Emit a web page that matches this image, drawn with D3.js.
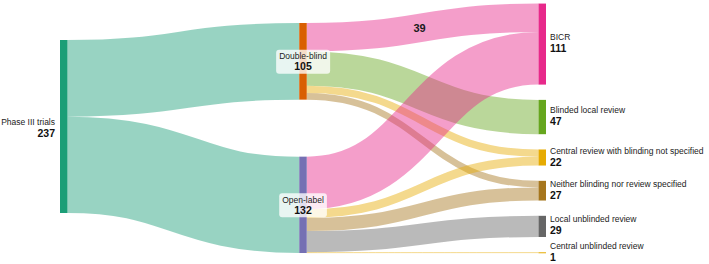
<!DOCTYPE html>
<html>
<head>
<meta charset="utf-8">
<script src="https://cdn.jsdelivr.net/npm/d3@7"></script>
<style>
  body { margin: 0; background: #fff; }
  svg { display: block; font-family: "Liberation Sans", Arial, sans-serif; }
</style>
</head>
<body>
<div id="chart"></div>
<script>
// nodes
const nodeNames = [
  "Phase III trials", "Double-blind", "Open-label", "BICR",
  "Blinded local review", "Central review with blinding not specified",
  "Neither blinding nor review specified", "Local unblinded review",
  "Central unblinded review"
];
const nodeColors = ["#1b9e77", "#d95f02", "#7570b3", "#e7298a", "#66a61e",
  "#e6ab02", "#a6761d", "#666666", "#e6ab02"];

// links
const linkSources = [0, 0, 1, 1, 1, 1, 2, 2, 2, 2, 2];
const linkTargets = [1, 2, 3, 4, 5, 6, 3, 5, 6, 7, 8];
const linkValues = [105, 132, 39, 47, 10, 9, 72, 12, 18, 29, 1];
const labelledLinks = [2];

const width = 709;
const height = 264;

// small sankey layout (d3-sankey is not part of the d3 bundle)
function sankeyLayout(nodes, links, opt) {
  const { x0, x1, y0, y1, nodeWidth, py, pyScale } = opt;

  nodes.forEach((n, i) => { n.index = i; n.sourceLinks = []; n.targetLinks = []; n.depth = 0; });
  links.forEach((l, i) => {
    l.index = i;
    l.source = nodes[l.source];
    l.target = nodes[l.target];
    l.source.sourceLinks.push(l);
    l.target.targetLinks.push(l);
  });
  nodes.forEach(n => {
    n.value = Math.max(d3.sum(n.sourceLinks, l => l.value), d3.sum(n.targetLinks, l => l.value));
  });

  let changed = true;
  while (changed) {
    changed = false;
    links.forEach(l => {
      if (l.target.depth < l.source.depth + 1) { l.target.depth = l.source.depth + 1; changed = true; }
    });
  }
  const nLayers = d3.max(nodes, n => n.depth) + 1;
  const x = d3.scaleLinear().domain([0, nLayers - 1]).range([x0, x1 - nodeWidth]);
  nodes.forEach(n => {
    n.layer = n.sourceLinks.length ? n.depth : nLayers - 1;
    n.x0 = x(n.layer);
    n.x1 = n.x0 + nodeWidth;
  });
  const columns = d3.range(nLayers).map(i => nodes.filter(n => n.layer === i));

  const ky = d3.min(columns, c => (y1 - y0 - (c.length - 1) * pyScale) / d3.sum(c, n => n.value));
  const y = d3.scaleLinear().domain([0, 1]).range([0, ky]);

  columns.forEach(col => {
    // first node sits where the d3-sankey start layout puts it,
    // the rest are spread evenly down to the bottom edge
    const total = d3.sum(col, n => y(n.value));
    const s = (y1 - y0 - total - (col.length - 1) * py) / (col.length + 1);
    const first = col[0];
    first.y0 = y0 + s;
    first.y1 = first.y0 + y(first.value);
    if (col.length > 1) {
      const rest = col.slice(1);
      const gap = (y1 - first.y1 - d3.sum(rest, n => y(n.value))) / rest.length;
      let yy = first.y1;
      rest.forEach(n => { n.y0 = yy + gap; n.y1 = n.y0 + y(n.value); yy = n.y1; });
    }
    col.forEach(n => n.sourceLinks.forEach(l => { l.width = y(l.value); }));
  });

  const byY = (a, b) => a.y0 - b.y0;
  nodes.forEach(n => {
    n.sourceLinks.sort((a, b) => byY(a.target, b.target) || a.index - b.index);
    n.targetLinks.sort((a, b) => byY(a.source, b.source) || a.index - b.index);
  });
  nodes.forEach(n => {
    let a = n.y0, b = n.y0;
    n.sourceLinks.forEach(l => { l.y0 = a + l.width / 2; a += l.width; });
    n.targetLinks.forEach(l => { l.y1 = b + l.width / 2; b += l.width; });
  });
  return { nodes, links };
}

const nodes = nodeNames.map((name, i) => ({ name, color: nodeColors[i] }));
const links = linkSources.map((s, i) => ({ source: s, target: linkTargets[i], value: linkValues[i] }));

sankeyLayout(nodes, links, {
  x0: 60, x1: 546, y0: 0, y1: 253,
  nodeWidth: 7.5, py: 11, pyScale: 16
});

const svg = d3.select("#chart")
  .append("svg")
  .attr("width", width)
  .attr("height", height)
  .attr("viewBox", `0 0 ${width} ${height}`);

const linkPath = d3.linkHorizontal()
  .source(d => [d.source.x1, d.y0])
  .target(d => [d.target.x0, d.y1]);

svg.append("g")
  .attr("fill", "none")
  .selectAll("path")
  .data(links)
  .join("path")
  .attr("d", linkPath)
  .attr("stroke", d => d.source.depth === 0 ? d.source.color : d.target.color)
  .attr("stroke-opacity", 0.45)
  .attr("stroke-width", d => Math.max(1, d.width));

svg.append("g")
  .selectAll("rect")
  .data(nodes)
  .join("rect")
  .attr("x", d => d.x0)
  .attr("y", d => d.y0)
  .attr("width", d => d.x1 - d.x0)
  .attr("height", d => Math.max(1, d.y1 - d.y0))
  .attr("fill", d => d.color);

// link value labels
svg.append("g")
  .selectAll("text")
  .data(labelledLinks.map(i => links[i]))
  .join("text")
  .attr("x", d => (d.source.x1 + d.target.x0) / 2 - 3)
  .attr("y", d => (d.y0 + d.y1) / 2 + 4)
  .attr("text-anchor", "middle")
  .attr("font-size", 11)
  .attr("font-weight", "bold")
  .attr("fill", "#1a1a1a")
  .text(d => d.value);

const lastLayer = d3.max(nodes, d => d.layer);
const labels = svg.append("g")
  .selectAll("g")
  .data(nodes)
  .join("g")
  .attr("transform", d => {
    const mid = (d.y0 + d.y1) / 2;
    if (d.layer === 0) return `translate(${d.x0 - 5},${mid})`;
    if (d.layer === lastLayer) return `translate(${d.x1 + 4},${mid})`;
    return `translate(${(d.x0 + d.x1) / 2},${mid})`;
  })
  .attr("text-anchor", d => d.layer === 0 ? "end" : d.layer === lastLayer ? "start" : "middle");

labels.append("text")
  .attr("y", d => d.layer === lastLayer ? -4 : -2)
  .attr("font-size", 8.5)
  .attr("fill", "#222")
  .text(d => d.name);

labels.append("text")
  .attr("y", d => d.layer === lastLayer ? 8 : d.layer === 0 ? 10 : 9)
  .attr("font-size", 10.5)
  .attr("font-weight", "bold")
  .attr("fill", "#111")
  .text(d => d.value);

// translucent boxes behind the middle labels
labels.filter(d => d.layer > 0 && d.layer < lastLayer).each(function() {
  const g = d3.select(this);
  const bb = this.getBBox();
  g.insert("rect", "text")
    .attr("x", bb.x - 3)
    .attr("y", bb.y - 1.5)
    .attr("width", bb.width + 6)
    .attr("height", bb.height + 3)
    .attr("rx", 3)
    .attr("fill", "#fff")
    .attr("fill-opacity", 0.78);
});
</script>
</body>
</html>
